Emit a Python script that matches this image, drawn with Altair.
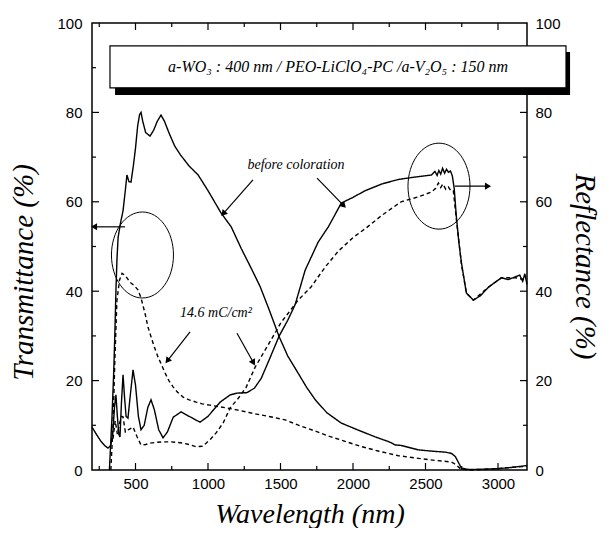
import math
import altair as alt
import pandas as pd

W, H = 435, 447
X0, X1 = 200, 3200

# ---------------- data ----------------
t_before_wl = [320, 338, 350, 358, 365, 372, 380, 395, 414, 428, 441, 455, 469, 485, 500, 515, 528, 538, 550, 570,
               600, 625, 650, 676, 700, 730, 770, 810, 870, 932, 1000, 1090, 1160, 1230, 1300, 1360, 1420, 1491, 1550, 1621,
               1680, 1740, 1820, 1919, 2030, 2154, 2250, 2292, 2330, 2451, 2550, 2637, 2680, 2706, 2730, 2748, 2800, 2900, 3000, 3100,
               3200]
t_before_val = [0, 12, 22, 31, 40, 47, 52, 55, 58, 62, 66, 64.5, 64.4, 68, 72, 77, 79.5, 80, 78, 75.5,
                74.7, 76, 78, 79.4, 78, 75.5, 72.5, 70.5, 68, 66, 62.5, 57.5, 54.4, 49.5, 45, 41, 36, 29.8, 25.5, 21.7,
                18.5, 15.7, 12.8, 10.5, 9, 7.4, 6.3, 5.6, 5.5, 4.5, 4.2, 4, 3.7, 3, 1.5, 0.4, 0.1, 0.2, 0.3, 0.6,
                1.0]

t_col_wl = [330, 345, 358, 372, 390, 407, 430, 462, 490, 517, 538, 566, 586, 607, 630, 655, 680, 704, 730, 759,
            790, 828, 870, 918, 960, 1014, 1070, 1125, 1208, 1290, 1367, 1450, 1532, 1643, 1740, 1830, 1919, 2050, 2180, 2313,
            2450, 2580, 2679, 2710, 2740, 2800, 2900, 3000, 3100, 3200]
t_col_val = [0, 10, 25, 38, 42.5, 44, 43.5, 42, 41.3, 40.3, 38.5, 35, 32, 29.8, 27.5, 25.3, 23.5, 21.7, 20, 18.6,
             17.4, 16.3, 15.7, 15.2, 14.8, 14.5, 14.2, 13.9, 13.4, 12.8, 12.3, 11.8, 11.2, 9.8, 8.7, 7.6, 6.7, 5.3, 4.2, 3.2,
             2.6, 2.1, 1.8, 1.2, 0.3, 0, 0.1, 0.3, 0.6, 0.8]

r_before_wl = [200, 230, 260, 290, 310, 330, 345, 355, 365, 375, 385, 393, 403, 414, 425, 435, 448, 465, 483, 500,
               520, 538, 560, 585, 607, 630, 660, 690, 720, 760, 814, 870, 945, 1000, 1084, 1153, 1200, 1267, 1320, 1367,
               1420, 1491, 1550, 1601, 1670, 1760, 1830, 1919, 2000, 2085, 2200, 2313, 2420, 2541, 2565, 2580, 2592, 2605, 2618, 2632,
               2645, 2658, 2672, 2685, 2698, 2713, 2730, 2748, 2782, 2830, 2880, 2934, 2980, 3024, 3070, 3119, 3150, 3170, 3185, 3200]
r_before_val = [9.6, 8, 6.5, 5.4, 4.9, 5.5, 9, 14, 16.8, 12, 8, 7.4, 15, 21.3, 16, 12, 11.6, 17, 22.4, 19,
                12, 9, 10, 14, 15.7, 13.5, 9, 7.2, 8.5, 11.8, 13, 12, 10.7, 12, 15.2, 16.8, 17.2, 17.3, 18.3, 20.5,
                24.5, 30, 33.5, 37, 44.7, 51, 54.4, 59.7, 61, 62.5, 64, 65, 65.5, 66, 66.8, 65.9, 67, 66.2, 67.5, 66.4,
                67.3, 66.6, 66.9, 65.8, 63, 56.6, 51, 46.3, 39.6, 38, 39, 40.9, 42, 43, 42.6, 43.2, 43.6, 42.2, 43.9, 41.5]

r_col_wl = [345, 360, 375, 390, 405, 414, 430, 450, 483, 510, 538, 570, 600, 650, 700, 738, 780, 828, 870, 918,
            960, 987, 1020, 1056, 1104, 1153, 1208, 1263, 1325, 1415, 1504, 1622, 1712, 1808, 1900, 2000, 2085, 2200, 2332, 2451,
            2541, 2570, 2589, 2605, 2620, 2640, 2658, 2675, 2692, 2713, 2748, 2782, 2830, 2934, 3024, 3119, 3200]
r_col_val = [7, 11, 8, 10.5, 12, 11.9, 8.5, 9, 9.6, 7.5, 5.6, 5.7, 6, 6.2, 6.3, 6.3, 6.2, 6, 5.7, 5.2,
             5.3, 6, 7, 8.3, 10.5, 13.9, 16, 18.5, 23, 28, 33, 38, 41, 45.4, 49, 52, 54, 57, 60, 61.1,
             62.2, 63, 64.2, 63.2, 64, 62.8, 63.3, 62.5, 62.5, 56, 46, 39.6, 38, 40.9, 43, 43, 42.5]

x_labels = [500, 1000, 1500, 2000, 2500, 3000]
x_minor = [250, 750, 1250, 1750, 2250, 2750]
y_labels = [0, 20, 40, 60, 80, 100]
y_major_inner = [20, 40, 60, 80]
y_minor = [10, 30, 50, 70, 90]

box_text = "a-WO\u2083 : 400 nm / PEO-LiClO\u2084-PC /a-V\u2082O\u2085 : 150 nm"
label_texts = ["before coloration", "14.6 mC/cm\u00b2"]
label_wl = [1607, 1055]
label_val = [68.2, 35.1]

# arrows: start -> end (data coordinates)
arrow_x1 = [1310, 1752, 876, 1200, 428, 2703]
arrow_y1 = [64.9, 65.3, 30.9, 30.6, 54.4, 63.5]
arrow_x2 = [1110, 1931, 724, 1310, 221, 2924]
arrow_y2 = [57.5, 59.3, 24.6, 24.2, 54.4, 63.5]

ellipse_wl = [548, 2593]
ellipse_val = [48.1, 63.5]

# box (data coordinates)
box = dict(x=[324], x2=[3469], y=[94.9], y2=[85.5])
shadow = dict(x=[359], x2=[3497], y=[93.5], y2=[83.9])
box_center = dict(x=[1897], y=[90.2], t=[box_text])

# ---------------- build ----------------
def curve_df(names, wls, vals, styles):
    rows = []
    for n, w, v, s in zip(names, wls, vals, styles):
        for a, b in zip(w, v):
            rows.append({"wl": a, "val": b, "curve": n, "style": s})
    return pd.DataFrame(rows)

df_T = curve_df(["T_before", "T_col"], [t_before_wl, t_col_wl], [t_before_val, t_col_val], ["solid", "dashed"])
df_R = curve_df(["R_before", "R_col"], [r_before_wl, r_col_wl], [r_before_val, r_col_val], ["solid", "dashed"])

xs = alt.Scale(domain=[X0, X1], nice=False, zero=False)
def ys():
    return alt.Scale(domain=[0, 100], nice=False, zero=False)

dash = alt.StrokeDash("style:N", scale=alt.Scale(domain=["solid", "dashed"], range=[[1, 0], [4, 3]]), legend=None)

x_axis = alt.Axis(values=x_labels, format="d", title="Wavelength (nm)", labelPadding=6, titleFontSize=28,
                  titleX=W / 2, titleY=52, titleBaseline="alphabetic", titleAlign="center")
left_axis = alt.Axis(values=y_labels, format="d", title="Transmittance (%)", labelPadding=10, titleX=-69, titleY=249,
                     titleAngle=270, titleBaseline="middle", titleAlign="center")
right_axis = alt.Axis(orient="right", values=y_labels, format="d", title="Reflectance (%)", labelPadding=8, titleX=57,
                      titleY=243, titleAngle=90, titleBaseline="middle", titleAlign="center")

def X(field):
    return alt.X(field, scale=xs, axis=x_axis)

trans = alt.Chart(df_T).mark_line(color="black", strokeWidth=1.4).encode(
    x=X("wl:Q"),
    y=alt.Y("val:Q", scale=ys(), axis=left_axis),
    detail="curve:N", strokeDash=dash)

refl = alt.Chart(df_R).mark_line(color="black", strokeWidth=1.4).encode(
    x=X("wl:Q"),
    y=alt.Y("val:Q", scale=ys(), axis=right_axis),
    detail="curve:N", strokeDash=dash)

layers = [trans, refl]

def xtick(vals, top, length):
    d = pd.DataFrame({"wl": vals})
    if top:
        yv, y2v = alt.value(0), alt.value(length)
    else:
        yv, y2v = alt.value(H), alt.value(H - length)
    return alt.Chart(d).mark_rule(color="black", strokeWidth=1.2).encode(
        x=X("wl:Q"), y=yv, y2=y2v)

def ytick(vals, right, length):
    d = pd.DataFrame({"val": vals})
    if right:
        xv, x2v = alt.value(W - length), alt.value(W)
    else:
        xv, x2v = alt.value(0), alt.value(length)
    return alt.Chart(d).mark_rule(color="black", strokeWidth=1.2).encode(
        y=alt.Y("val:Q", scale=ys(), axis=None), x=xv, x2=x2v)

layers += [xtick(x_labels, False, 7), xtick(x_minor, False, 4),
           xtick(x_labels, True, 7), xtick(x_minor, True, 4),
           ytick(y_major_inner, False, 7), ytick(y_minor, False, 4),
           ytick(y_major_inner, True, 7), ytick(y_minor, True, 4)]

# box with shadow
layers.append(alt.Chart(pd.DataFrame(shadow)).mark_rect(color="black").encode(
    x=X("x:Q"), x2="x2:Q",
    y=alt.Y("y:Q", scale=ys(), axis=None), y2="y2:Q"))
layers.append(alt.Chart(pd.DataFrame(box)).mark_rect(fill="white", stroke="black", strokeWidth=1.2).encode(
    x=X("x:Q"), x2="x2:Q",
    y=alt.Y("y:Q", scale=ys(), axis=None), y2="y2:Q"))
layers.append(alt.Chart(pd.DataFrame(box_center)).mark_text(
    font="Liberation Serif", fontStyle="italic", fontSize=16, color="black").encode(
    x=X("x:Q"), y=alt.Y("y:Q", scale=ys(), axis=None), text="t:N"))

# text labels
layers.append(alt.Chart(pd.DataFrame({"x": label_wl, "y": label_val, "t": label_texts})).mark_text(
    font="Liberation Serif", fontStyle="italic", fontSize=14, color="black").encode(
    x=X("x:Q"), y=alt.Y("y:Q", scale=ys(), axis=None), text="t:N"))

# ellipses
rx, ry = 31.0, 43.0
ell_path = "M0,-1A{r:.3f},1,0,1,1,0,1A{r:.3f},1,0,1,1,0,-1Z".format(r=rx / ry)
layers.append(alt.Chart(pd.DataFrame({"x": ellipse_wl, "y": ellipse_val})).mark_point(
    shape=ell_path, size=(2 * ry) ** 2, filled=False, stroke="black", strokeWidth=1, opacity=1).encode(
    x=X("x:Q"), y=alt.Y("y:Q", scale=ys(), axis=None)))

# arrows
px_per_x = W / (X1 - X0)
px_per_y = H / 100.0
angles = []
for a, b, c, d in zip(arrow_x1, arrow_y1, arrow_x2, arrow_y2):
    dx = (c - a) * px_per_x
    dy = -(d - b) * px_per_y
    angles.append(math.degrees(math.atan2(dx, -dy)) % 360)
adf = pd.DataFrame({"x1": arrow_x1, "y1": arrow_y1, "x2": arrow_x2, "y2": arrow_y2, "ang": angles})
layers.append(alt.Chart(adf).mark_rule(color="black", strokeWidth=1.2).encode(
    x=X("x1:Q"), x2="x2:Q",
    y=alt.Y("y1:Q", scale=ys(), axis=None), y2="y2:Q"))
layers.append(alt.Chart(adf).mark_point(shape="triangle", filled=True, size=50, color="black", opacity=1).encode(
    x=X("x2:Q"), y=alt.Y("y2:Q", scale=ys(), axis=None),
    angle=alt.Angle("ang:Q", scale=None)))

chart = alt.layer(*layers).resolve_scale(y="independent").properties(
    width=W, height=H,
    autosize=alt.AutoSizeParams(type="none"),
    padding={"left": 84, "top": 15, "right": 74, "bottom": 58},
).configure_view(stroke="black", strokeWidth=1.5).configure_axis(
    grid=False, domain=False, ticks=False,
    labelFont="Liberation Sans", labelFontSize=15, labelColor="black",
    titleFont="Liberation Serif", titleFontStyle="italic", titleFontWeight="normal",
    titleFontSize=29, titleColor="black")

chart.save("out.html", embed_options={"renderer": "svg", "actions": False})
